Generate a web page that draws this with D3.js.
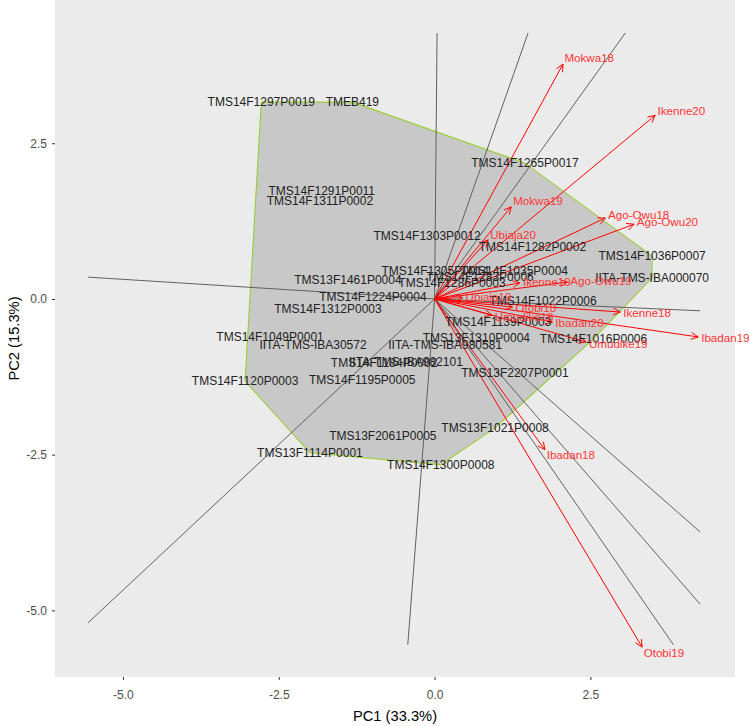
<!DOCTYPE html>
<html><head><meta charset="utf-8">
<script src="https://cdn.jsdelivr.net/npm/d3@7"></script>
<style>body{margin:0;background:#fff}</style>
</head><body><svg id="c" width="750" height="726"></svg>
<script>
// ---- data ----
const genotypes = ["TMS14F1297P0019","TMEB419","TMS14F1265P0017","TMS14F1036P0007","IITA-TMS-IBA000070",
"TMS14F1016P0006","TMS13F2207P0001","TMS13F1021P0008","TMS14F1300P0008","TMS13F2061P0005",
"TMS13F1114P0001","TMS14F1120P0003","TMS14F1049P0001","IITA-TMS-IBA30572","TMS14F1195P0005",
"TMS14F1291P0011","TMS14F1311P0002","TMS14F1303P0012","TMS13F1461P0004","TMS14F1224P0004",
"TMS14F1312P0003","TMS14F1282P0002","IITA-TMS-IBA982101","TMS14F1184P0002","IITA-TMS-IBA980581",
"TMS13F1310P0004","TMS14F1139P0003","TMS14F1022P0006","TMS14F1305P0014","TMS14F1035P0004",
"TMS14F1286P0003","TMS14F1283P0006"];
const genoX = [-2.78,-1.32,1.45,3.49,3.49, 2.55,1.29,0.97,0.10,-0.83, -2.00,-3.04,-2.64,-1.95,-1.16,
-1.81,-1.84,-0.12,-1.39,-0.99, -1.71,1.57,-0.46,-0.81,0.17, 0.67,1.02,1.74,0.01,1.28, 0.28,0.73];
const genoY = [3.16,3.16,2.18,0.69,0.34, -0.64,-1.19,-2.07,-2.66,-2.20, -2.47,-1.32,-0.61,-0.74,-1.30,
1.73,1.57,1.01,0.30,0.03, -0.16,0.83,-1.01,-1.03,-0.74, -0.63,-0.37,-0.03,0.45,0.45, 0.26,0.35];

const environments = ["Mokwa18","Ikenne20","Mokwa19","Ago-Owu18","Ago-Owu20","Ubiaja20","Ago-Owu19",
"Ikenne19","Ubiaja19","Otobi18","Umudike18","Ikenne18","Ibadan20","Ibadan19","Umudike19","Ibadan18","Otobi19"];
const envX = [2.06,3.54,1.23,2.74,3.20,0.86,2.13, 1.37,0.45,1.25,0.92,2.98,1.89,4.23,2.43,1.77,3.33];
const envY = [3.77,2.95,1.48,1.30,1.20,0.95,0.27, 0.26,0.02,-0.13,-0.26,-0.21,-0.37,-0.61,-0.69,-2.42,-5.59];

const sectorX = [0.04,1.50,3.06,4.26,4.26,4.26,3.83,-0.43,-5.56,-5.56];
const sectorY = [4.27,4.27,4.27,-0.19,-3.74,-4.90,-5.55,-5.55,-5.20,0.35];

const xTicks = [-5,-2.5,0,2.5];
const yTicks = [-5,-2.5,0,2.5];
const xTitle = "PC1 (33.3%)";
const yTitle = "PC2 (15.3%)";

// ---- layout ----
const L = 55, R = 735, T = 0, B = 677;
const x = d3.scaleLinear().domain([-6.09, 4.82]).range([L, R]);
const y = d3.scaleLinear().domain([-6.07, 4.80]).range([B, T]);
const svg = d3.select("#c");
const font = "'Liberation Sans', Arial, sans-serif";

svg.append("rect").attr("x", L).attr("y", T).attr("width", R - L).attr("height", B - T).attr("fill", "#ebebeb");

svg.append("clipPath").attr("id", "pc").append("rect")
  .attr("x", L).attr("y", T).attr("width", R - L).attr("height", B - T);
const g = svg.append("g").attr("clip-path", "url(#pc)");

// hull
const pts = genoX.map((v, i) => [x(v), y(genoY[i])]);
const hull = d3.polygonHull(pts);
g.append("path").attr("d", "M" + hull.map(p => p.join(",")).join("L") + "Z")
  .attr("fill", "#c8c8c8").attr("stroke", "#9acd32").attr("stroke-width", 1.1);

// sector lines
sectorX.forEach((v, i) => {
  g.append("line").attr("x1", x(0)).attr("y1", y(0)).attr("x2", x(v)).attr("y2", y(sectorY[i]))
    .attr("stroke", "#606060").attr("stroke-width", 1);
});

// genotype labels
genotypes.forEach((n, i) => {
  svg.append("text").attr("x", x(genoX[i])).attr("y", y(genoY[i])).attr("dy", "0.35em")
    .attr("text-anchor", "middle").attr("font-family", font).attr("font-size", 12)
    .attr("fill", "#222").text(n);
});

// environment vectors
environments.forEach((n, i) => {
  const ox = x(0), oy = y(0), tx = x(envX[i]), ty = y(envY[i]);
  const a = Math.atan2(ty - oy, tx - ox);
  g.append("line").attr("x1", ox).attr("y1", oy).attr("x2", tx).attr("y2", ty)
    .attr("stroke", "red").attr("stroke-width", 1);
  const hl = 8, da = 0.45;
  g.append("path")
    .attr("d", `M${tx - hl * Math.cos(a - da)},${ty - hl * Math.sin(a - da)}L${tx},${ty}L${tx - hl * Math.cos(a + da)},${ty - hl * Math.sin(a + da)}`)
    .attr("fill", "none").attr("stroke", "red").attr("stroke-width", 1);
});
environments.forEach((n, i) => {
  const ox = x(0), oy = y(0), tx = x(envX[i]), ty = y(envY[i]);
  const a = Math.atan2(ty - oy, tx - ox);
  svg.append("text").attr("x", tx + 3 * Math.cos(a)).attr("y", ty + 7 * Math.sin(a)).attr("dy", "0.35em")
    .attr("font-family", font).attr("font-size", 11.6).attr("fill", "#ff3535").text(n);
});

// axes
const fmt = d => d.toFixed(1);
const xa = svg.append("g").attr("transform", `translate(0,${B})`)
  .call(d3.axisBottom(x).tickValues(xTicks).tickFormat(fmt).tickSize(3).tickPadding(10));
const ya = svg.append("g").attr("transform", `translate(${L},0)`)
  .call(d3.axisLeft(y).tickValues(yTicks).tickFormat(fmt).tickSize(3).tickPadding(5));
[xa, ya].forEach(a => {
  a.select(".domain").remove();
  a.selectAll("line").attr("stroke", "#333");
  a.selectAll("text").attr("fill", "#4d4d4d").attr("font-size", 12).attr("font-family", font);
});

svg.append("text").attr("x", (L + R) / 2).attr("y", 721).attr("text-anchor", "middle")
  .attr("font-family", font).attr("font-size", 14.7).attr("fill", "#000").text(xTitle);
svg.append("text").attr("transform", `translate(19,${(T + B) / 2}) rotate(-90)`).attr("text-anchor", "middle")
  .attr("font-family", font).attr("font-size", 14.7).attr("fill", "#000").text(yTitle);
</script></body></html>
